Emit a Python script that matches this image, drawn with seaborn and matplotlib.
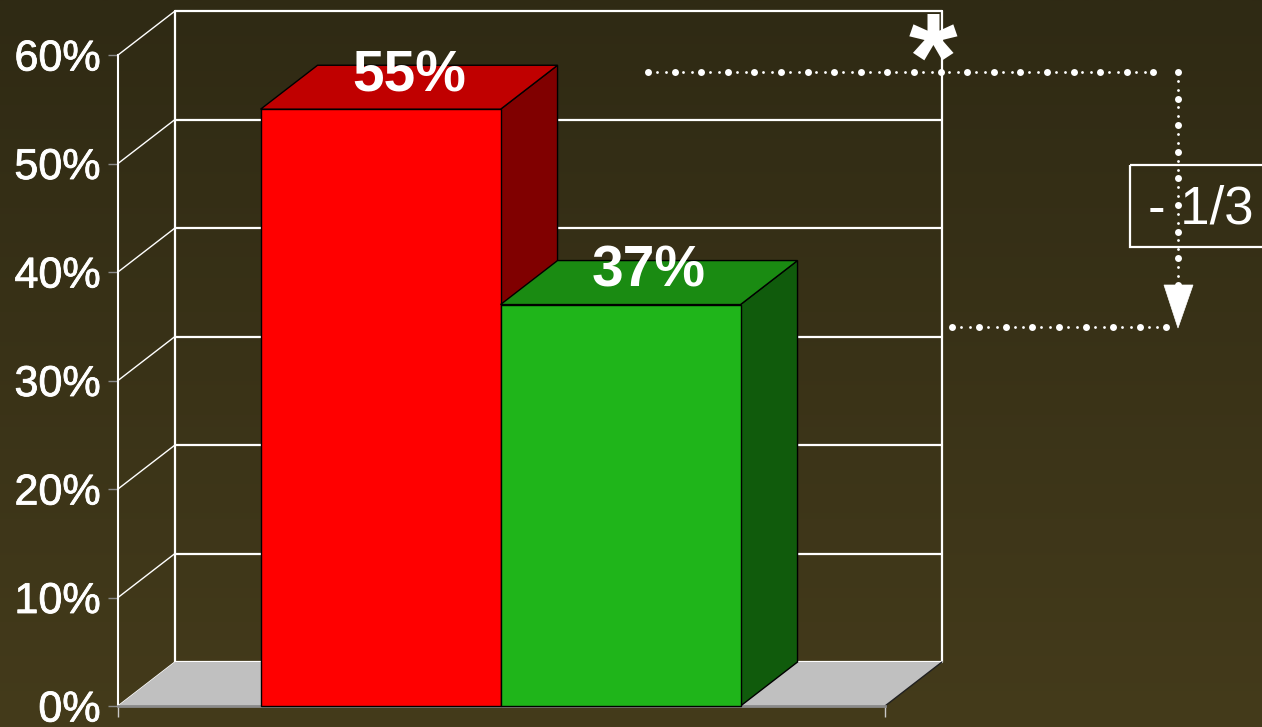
import numpy as np
import matplotlib
matplotlib.use("Agg")
import matplotlib.pyplot as plt
import matplotlib.patheffects as pe
import seaborn as sns
import pandas as pd
from matplotlib.patches import Polygon, Rectangle

# ---- data ----
groups = ["Before", "After"]
shares = [55, 37]
share_labels = ["55%", "37%"]
y_ticks = [0, 10, 20, 30, 40, 50, 60]
y_tick_labels = ["0%", "10%", "20%", "30%", "40%", "50%", "60%"]
change_label = "- 1/3"
marker_label = "*"

# ---- colours ----
front_colors = ["#ff0000", "#1fb51a"]
top_colors = ["#c00000", "#1a8b12"]
side_colors = ["#800000", "#105b0c"]
floor_color = "#c0c0c0"
bg_top = np.array([47, 42, 20]) / 255
bg_bottom = np.array([68, 59, 27]) / 255

W, H = 1262, 727
sns.set_theme(style="white")
plt.rcParams["font.family"] = ["Liberation Sans", "DejaVu Sans"]

fig = plt.figure(figsize=(W / 100, H / 100), dpi=100)

# vertical background gradient
bg = fig.add_axes([0, 0, 1, 1], zorder=0)
t = np.linspace(0, 1, 256)[:, None, None]
bg.imshow(bg_top + (bg_bottom - bg_top) * t, aspect="auto", extent=[0, 1, 0, 1])
bg.axis("off")

# front plane of the 3D box (pixel box 118..885 x 55..706)
left, right, top, bottom = 118, 885, 55, 706
ax = fig.add_axes([left / W, (H - bottom) / H, (right - left) / W, (bottom - top) / H], zorder=1)
ax.patch.set_visible(False)

df = pd.DataFrame({"group": groups, "share": shares})
sns.barplot(data=df, x="group", y="share", hue="group", palette=front_colors,
            width=1.0, saturation=1, edgecolor="black", linewidth=1,
            legend=False, ax=ax)
bars = [p for p in ax.patches if p.get_height() > 0]

x0, x1 = -1.094, 2.102
ax.set_xlim(x0, x1)
ax.set_ylim(0, 60)

# depth offset of the 3D box, in data units
depth_px = (57, 44)
dx = depth_px[0] / ((right - left) / (x1 - x0))
dy = depth_px[1] / ((bottom - top) / 60)

# back wall and left side wall
for v in y_ticks:
    ax.plot([x0 + dx, x1 + dx], [v + dy, v + dy], color="white", lw=1.6,
            clip_on=False, zorder=1)
    ax.plot([x0, x0 + dx], [v, v + dy], color="white", lw=1.0,
            clip_on=False, zorder=1)
for xv in (x0 + dx, x1 + dx):
    ax.plot([xv, xv], [dy, 60 + dy], color="white", lw=1.6, clip_on=False, zorder=1)

# floor
ax.add_patch(Polygon([(x0, 0), (x1, 0), (x1 + dx, dy), (x0 + dx, dy)],
                     closed=True, fc=floor_color, ec="none", clip_on=False, zorder=1.5))
ax.plot([x1, x1 + dx], [0, dy], color="#202020", lw=1.0, clip_on=False, zorder=1.6)

# extrude the seaborn bars into boxes
for i, bar in enumerate(bars):
    xl = bar.get_x()
    xr = xl + bar.get_width()
    h = bar.get_height()
    z = 3 + i
    side = Polygon([(xr, 0), (xr + dx, dy), (xr + dx, h + dy), (xr, h)],
                   closed=True, fc=side_colors[i], ec="black", lw=1, clip_on=False, zorder=z)
    topf = Polygon([(xl, h), (xr, h), (xr + dx, h + dy), (xl + dx, h + dy)],
                   closed=True, fc=top_colors[i], ec="black", lw=1, clip_on=False, zorder=z + 0.1)
    ax.add_patch(side)
    ax.add_patch(topf)
    bar.set_zorder(z + 0.2)
    bar.set_clip_on(False)
    ax.annotate(share_labels[i], xy=(xl + bar.get_width() / 2 + dx / 2, h + dy / 2),
                xytext=(0, 8), textcoords="offset points", ha="center", va="center",
                fontsize=41, fontweight="bold", color="white", zorder=10,
                annotation_clip=False)

# axes styling
for s in ("top", "right"):
    ax.spines[s].set_visible(False)
ax.spines["left"].set_color("white")
ax.spines["left"].set_linewidth(1.5)
ax.spines["left"].set_zorder(2)
ax.spines["bottom"].set_color("#8a8a8a")
ax.spines["bottom"].set_linewidth(2)
ax.set_yticks(y_ticks, y_tick_labels)
ax.tick_params(axis="y", left=True, length=7.2, width=1, color="#8a8a8a", pad=5.5,
               labelsize=31, labelcolor="white")
for lab in ax.get_yticklabels():
    lab.set_path_effects([pe.withStroke(linewidth=0.6, foreground="white")])
ax.set_xticks([x0, x1], ["", ""])
ax.tick_params(axis="x", bottom=True, direction="out", length=8, width=1, color="#c8c8c8")
ax.set_xlabel("")
ax.set_ylabel("")

# change annotation overlay (pixel coordinates)
ov = fig.add_axes([0, 0, 1, 1], zorder=5)
ov.set_xlim(0, W)
ov.set_ylim(H, 0)
ov.axis("off")
ov.patch.set_visible(False)


def dash_dot_line(p0, p1, step=26.6):
    p0 = np.asarray(p0, float)
    p1 = np.asarray(p1, float)
    length = np.hypot(*(p1 - p0))
    u = (p1 - p0) / length
    n = int(length // step)
    big = np.array([p0 + u * step * k for k in range(n + 1)])
    small = np.array([p0 + u * (step * k + step * f) for k in range(n)
                      for f in (1 / 3, 2 / 3)])
    ov.plot(big[:, 0], big[:, 1], "o", ms=5.0, color="white", mec="none")
    ov.plot(small[:, 0], small[:, 1], "o", ms=2.0, color="white", mec="none")


dash_dot_line((648, 72), (1178, 72))
dash_dot_line((1178, 72), (1178, 290))
dash_dot_line((952, 327), (1168, 327), step=26.8)
ov.add_patch(Polygon([(1164, 285), (1193, 285), (1178, 328)], closed=True,
                     fc="white", ec="white", lw=0.5))

ov.add_patch(Rectangle((1130, 165), 150, 82, fill=False, ec="white", lw=1.6))
ov.text(1148, 223, change_label, fontsize=38, color="white", ha="left", va="baseline")
ov.text(933, 100, marker_label, fontsize=90, fontweight="bold", color="white",
        ha="center", va="baseline")

fig.savefig("out.png", dpi=100)
